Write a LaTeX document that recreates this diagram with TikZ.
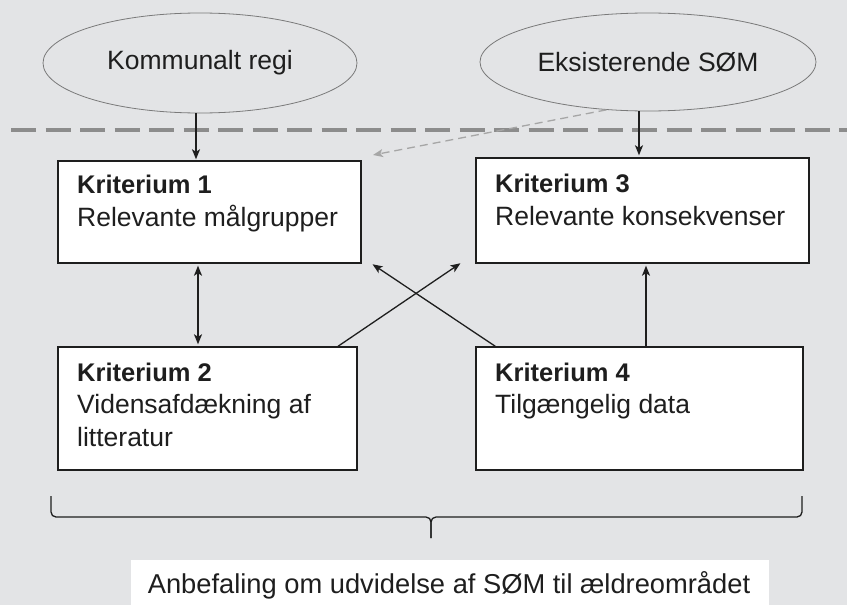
\documentclass[tikz,border=0pt]{standalone}
\usepackage{fontspec}
\setmainfont{Liberation Sans}
\usetikzlibrary{arrows.meta,shapes.geometric,calc}
\definecolor{bg}{HTML}{E3E4E6}
\definecolor{ink}{HTML}{1E1E1E}
\definecolor{ellline}{HTML}{7A7A7A}
\definecolor{sep}{HTML}{8C8C8C}
\definecolor{lightarr}{HTML}{A6A6A6}
\tikzset{
  oval/.style={ellipse, draw=ellline, line width=0.8pt, fill=bg, inner sep=0pt,
    font=\fontsize{26.5}{32}\selectfont, text=ink},
  kbox/.style={rectangle, draw=ink, line width=1.4pt, fill=white, inner sep=0pt},
  ktext/.style={anchor=north west, inner sep=0pt, align=left, text=ink,
    font=\fontsize{26.5}{32.5}\selectfont},
  arr/.style={draw=ink, line width=1.3pt, -{Stealth[length=10pt,width=8pt,inset=2.5pt]}},
  darr/.style={draw=ink, line width=1.3pt, {Stealth[length=10pt,width=8pt,inset=2.5pt]}-{Stealth[length=10pt,width=8pt,inset=2.5pt]}},
  dasharr/.style={draw=lightarr, line width=1.3pt, dash pattern=on 8pt off 5pt,
    -{Stealth[length=10pt,width=8pt,inset=2.5pt]}},
  brace/.style={draw=ink, line width=1.3pt, rounded corners=5pt},
}
\newcommand{\kbold}[1]{{\fontsize{25.5}{32.5}\selectfont\bfseries #1}}
\begin{document}
\begin{tikzpicture}[x=1pt,y=-1pt]
\fill[bg] (0,0) rectangle (847,605);
\useasboundingbox (0,0) rectangle (847,605);
\clip (0,0) rectangle (847,605);

% ellipses
\node[oval, minimum width=314pt, minimum height=100pt] (e1) at (200,63) {Kommunalt regi};
\node[oval, minimum width=336pt, minimum height=98pt] (e2) at (648,62) {Eksisterende SØM};

% separator
\coordinate (s1) at (11,130);
\coordinate (s2) at (847,130);
\draw[draw=sep, line width=3.5pt, dash pattern=on 25pt off 9.5pt] (s1) -- (s2);

% boxes
\node[kbox, minimum width=303pt, minimum height=102pt] (k1) at (209.5,212) {};
\node[kbox, minimum width=333pt, minimum height=105pt] (k3) at (642.5,210.5) {};
\node[kbox, minimum width=299pt, minimum height=123pt] (k2) at (207.5,408.5) {};
\node[kbox, minimum width=327pt, minimum height=123pt] (k4) at (639.5,408.5) {};

\node[ktext] (t1) at (77,175) {\kbold{Kriterium 1}\\Relevante målgrupper};
\node[ktext] (t3) at (495,174) {\kbold{Kriterium 3}\\Relevante konsekvenser};
\node[ktext] (t2) at (77,362.5) {\kbold{Kriterium 2}\\Vidensafdækning af\\litteratur};
\node[ktext] (t4) at (495,362.5) {\kbold{Kriterium 4}\\Tilgængelig data};

% bottom recommendation
\node[rectangle, fill=white, inner sep=0pt, minimum width=638pt, minimum height=60pt,
  anchor=north] (rec) at (450,560) {};
\node[anchor=base, inner sep=0pt, text=ink, font=\fontsize{27.3}{32}\selectfont] (rect) at (449,593)
  {Anbefaling om udvidelse af SØM til ældreområdet};

% connectors
\draw[arr, shorten >=1pt] ([xshift=-4pt]e1.south) -- ([xshift=-4pt]e1.south |- k1.north);
\draw[arr, shorten >=2pt] ([xshift=-9pt]e2.south) -- ([xshift=-9pt]e2.south |- k3.north);
\coordinate (d1) at (373,155);
\draw[dasharr] (e2.229) -- (d1);
\draw[darr, shorten >=2pt, shorten <=2pt] ([xshift=-11.5pt]k1.south) -- ([xshift=-11.5pt]k1.south |- k2.north);
\draw[arr, shorten >=1pt] ([xshift=130.5pt]k2.north) -- ([xshift=-14pt,yshift=1pt]k3.south west);
\draw[arr, shorten >=1pt] ([xshift=20pt]k4.north west) -- ([xshift=10pt]k1.south east);
\draw[arr, shorten >=2pt] ([xshift=6.5pt]k4.north) -- ([xshift=6.5pt]k4.north |- k3.south);

% brace
\coordinate (b1) at (51,496);
\coordinate (b2) at (802,496);
\coordinate (bm) at (431,517);
\coordinate (bt) at (431,538);
\draw[brace] (b1) -- (b1 |- bm) -- (bm) -- (bt);
\draw[brace] (b2) -- (b2 |- bm) -- (bm) -- (bt);
\end{tikzpicture}
\end{document}
